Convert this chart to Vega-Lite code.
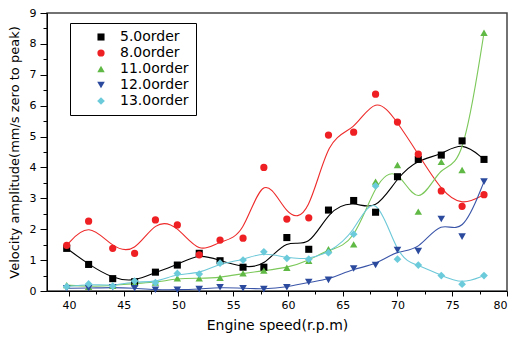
{
  "$schema": "https://vega.github.io/schema/vega-lite/v6.json",
  "autosize": {"type": "none"},
  "width": 460,
  "height": 278,
  "padding": {"left": 47, "top": 13, "right": 7, "bottom": 51},
  "background": "white",
  "config": {
    "view": {"stroke": "#444", "strokeWidth": 1.5},
    "axis": {"grid": false, "domainColor": "#000", "tickColor": "#000", "labelColor": "#000", "titleColor": "#000", "labelFont": "DejaVu Sans", "titleFont": "DejaVu Sans", "labelFontSize": 11, "titleFontWeight": "normal"},
    "legend": {"labelFont": "DejaVu Sans", "labelFontSize": 14, "labelColor": "#000"}
  },
  "data": {"values": [
    {"x": 39.8, "y": 1.38, "s": "5.0order"}, {"x": 41.8, "y": 0.86, "s": "5.0order"}, {"x": 44, "y": 0.40, "s": "5.0order"}, {"x": 46, "y": 0.30, "s": "5.0order"}, {"x": 47.9, "y": 0.61, "s": "5.0order"}, {"x": 49.9, "y": 0.84, "s": "5.0order"}, {"x": 51.9, "y": 1.22, "s": "5.0order"}, {"x": 53.8, "y": 0.98, "s": "5.0order"}, {"x": 55.9, "y": 0.77, "s": "5.0order"}, {"x": 57.8, "y": 0.77, "s": "5.0order"}, {"x": 59.9, "y": 1.73, "s": "5.0order"}, {"x": 61.9, "y": 1.35, "s": "5.0order"}, {"x": 63.7, "y": 2.62, "s": "5.0order"}, {"x": 66, "y": 2.93, "s": "5.0order"}, {"x": 68, "y": 2.55, "s": "5.0order"}, {"x": 70, "y": 3.70, "s": "5.0order"}, {"x": 71.9, "y": 4.26, "s": "5.0order"}, {"x": 74, "y": 4.40, "s": "5.0order"}, {"x": 75.9, "y": 4.86, "s": "5.0order"}, {"x": 77.9, "y": 4.26, "s": "5.0order"},
    {"x": 39.8, "y": 1.48, "s": "8.0order"}, {"x": 41.8, "y": 2.26, "s": "8.0order"}, {"x": 44, "y": 1.38, "s": "8.0order"}, {"x": 46, "y": 1.22, "s": "8.0order"}, {"x": 47.9, "y": 2.30, "s": "8.0order"}, {"x": 49.9, "y": 2.14, "s": "8.0order"}, {"x": 51.9, "y": 1.17, "s": "8.0order"}, {"x": 53.8, "y": 1.65, "s": "8.0order"}, {"x": 55.9, "y": 1.71, "s": "8.0order"}, {"x": 57.8, "y": 4.00, "s": "8.0order"}, {"x": 59.9, "y": 2.33, "s": "8.0order"}, {"x": 61.9, "y": 2.37, "s": "8.0order"}, {"x": 63.7, "y": 5.05, "s": "8.0order"}, {"x": 66, "y": 5.14, "s": "8.0order"}, {"x": 68, "y": 6.37, "s": "8.0order"}, {"x": 70, "y": 5.47, "s": "8.0order"}, {"x": 71.9, "y": 4.43, "s": "8.0order"}, {"x": 74, "y": 3.24, "s": "8.0order"}, {"x": 75.9, "y": 2.74, "s": "8.0order"}, {"x": 77.9, "y": 3.12, "s": "8.0order"},
    {"x": 39.8, "y": 0.19, "s": "11.0order"}, {"x": 41.8, "y": 0.14, "s": "11.0order"}, {"x": 44, "y": 0.17, "s": "11.0order"}, {"x": 46, "y": 0.25, "s": "11.0order"}, {"x": 47.9, "y": 0.27, "s": "11.0order"}, {"x": 49.9, "y": 0.41, "s": "11.0order"}, {"x": 51.9, "y": 0.41, "s": "11.0order"}, {"x": 53.8, "y": 0.43, "s": "11.0order"}, {"x": 55.9, "y": 0.57, "s": "11.0order"}, {"x": 57.8, "y": 0.66, "s": "11.0order"}, {"x": 59.9, "y": 0.75, "s": "11.0order"}, {"x": 61.9, "y": 0.98, "s": "11.0order"}, {"x": 63.7, "y": 1.35, "s": "11.0order"}, {"x": 66, "y": 1.51, "s": "11.0order"}, {"x": 68, "y": 3.54, "s": "11.0order"}, {"x": 70, "y": 4.08, "s": "11.0order"}, {"x": 71.9, "y": 2.57, "s": "11.0order"}, {"x": 74, "y": 4.18, "s": "11.0order"}, {"x": 75.9, "y": 3.92, "s": "11.0order"}, {"x": 77.9, "y": 8.36, "s": "11.0order"},
    {"x": 39.8, "y": 0.09, "s": "12.0order"}, {"x": 41.8, "y": 0.09, "s": "12.0order"}, {"x": 44, "y": 0.12, "s": "12.0order"}, {"x": 46, "y": 0.09, "s": "12.0order"}, {"x": 47.9, "y": 0.04, "s": "12.0order"}, {"x": 49.9, "y": 0.04, "s": "12.0order"}, {"x": 51.9, "y": 0.06, "s": "12.0order"}, {"x": 53.8, "y": 0.12, "s": "12.0order"}, {"x": 55.9, "y": 0.09, "s": "12.0order"}, {"x": 57.8, "y": 0.06, "s": "12.0order"}, {"x": 59.9, "y": 0.12, "s": "12.0order"}, {"x": 61.9, "y": 0.29, "s": "12.0order"}, {"x": 63.7, "y": 0.36, "s": "12.0order"}, {"x": 66, "y": 0.73, "s": "12.0order"}, {"x": 68, "y": 0.84, "s": "12.0order"}, {"x": 70, "y": 1.33, "s": "12.0order"}, {"x": 71.9, "y": 1.29, "s": "12.0order"}, {"x": 74, "y": 2.33, "s": "12.0order"}, {"x": 75.9, "y": 1.76, "s": "12.0order"}, {"x": 77.9, "y": 3.54, "s": "12.0order"},
    {"x": 39.8, "y": 0.14, "s": "13.0order"}, {"x": 41.8, "y": 0.23, "s": "13.0order"}, {"x": 44, "y": 0.16, "s": "13.0order"}, {"x": 46, "y": 0.32, "s": "13.0order"}, {"x": 47.9, "y": 0.27, "s": "13.0order"}, {"x": 49.9, "y": 0.57, "s": "13.0order"}, {"x": 51.9, "y": 0.55, "s": "13.0order"}, {"x": 53.8, "y": 0.90, "s": "13.0order"}, {"x": 55.9, "y": 1.00, "s": "13.0order"}, {"x": 57.8, "y": 1.27, "s": "13.0order"}, {"x": 59.9, "y": 1.06, "s": "13.0order"}, {"x": 61.9, "y": 1.03, "s": "13.0order"}, {"x": 63.7, "y": 1.24, "s": "13.0order"}, {"x": 66, "y": 1.84, "s": "13.0order"}, {"x": 68, "y": 3.40, "s": "13.0order"}, {"x": 70, "y": 1.03, "s": "13.0order"}, {"x": 71.9, "y": 0.84, "s": "13.0order"}, {"x": 74, "y": 0.50, "s": "13.0order"}, {"x": 75.9, "y": 0.22, "s": "13.0order"}, {"x": 77.9, "y": 0.50, "s": "13.0order"}
  ]},
  "resolve": {"axis": {"x": "independent", "y": "independent"}},
  "layer": [
    {
      "mark": {"type": "line", "interpolate": "basis", "strokeWidth": 1.1},
      "encoding": {
        "x": {"field": "x", "type": "quantitative", "scale": {"domain": [38, 80], "nice": false, "zero": false},
          "axis": {"orient": "bottom", "values": [40, 45, 50, 55, 60, 65, 70, 75, 80], "tickSize": 5, "labelPadding": 3, "title": "Engine speed(r.p.m)", "titleFontSize": 14, "titlePadding": 8}},
        "y": {"field": "y", "type": "quantitative", "scale": {"domain": [0, 9], "nice": false},
          "axis": {"orient": "left", "values": [0, 1, 2, 3, 4, 5, 6, 7, 8, 9], "tickSize": 7, "labelPadding": 4, "title": "Velocity amplitude(mm/s zero to peak)", "titleFontSize": 13, "titlePadding": 8}},
        "stroke": {"field": "s", "type": "nominal",
          "scale": {"domain": ["5.0order", "8.0order", "11.0order", "12.0order", "13.0order"], "range": ["#000000", "#ee2a2a", "#7cc85a", "#3a55a8", "#6cc8d8"]},
          "legend": {"orient": "none", "legendX": 23, "legendY": 10, "title": null, "strokeColor": "#000", "padding": 7, "rowPadding": 2, "symbolOffset": 17, "labelOffset": 12, "symbolStrokeWidth": 0}},
        "detail": {"field": "s"}
      }
    },
    {
      "mark": {"type": "point", "filled": true, "opacity": 1},
      "encoding": {
        "x": {"field": "x", "type": "quantitative", "scale": {"domain": [38, 80], "nice": false, "zero": false},
          "axis": {"orient": "bottom", "values": [42.5, 47.5, 52.5, 57.5, 62.5, 67.5, 72.5, 77.5], "tickSize": 3, "labels": false, "domain": false, "title": null}},
        "y": {"field": "y", "type": "quantitative", "scale": {"domain": [0, 9], "nice": false},
          "axis": {"orient": "left", "values": [0.5, 1.5, 2.5, 3.5, 4.5, 5.5, 6.5, 7.5, 8.5], "tickSize": 4, "labels": false, "domain": false, "title": null}},
        "size": {"field": "s", "type": "nominal",
          "scale": {"domain": ["5.0order", "8.0order", "11.0order", "12.0order", "13.0order"], "range": [50, 60, 85, 85, 80]},
          "legend": {"orient": "none", "legendX": 23, "legendY": 10, "title": null, "strokeColor": "#000", "padding": 7, "rowPadding": 2, "symbolOffset": 17, "labelOffset": 12, "symbolStrokeWidth": 0}},
        "color": {"field": "s", "type": "nominal",
          "scale": {"domain": ["5.0order", "8.0order", "11.0order", "12.0order", "13.0order"], "range": ["#000000", "#ee2024", "#5fb944", "#2b4a9e", "#6ccbda"]},
          "legend": {"orient": "none", "legendX": 23, "legendY": 10, "title": null, "strokeColor": "#000", "padding": 7, "rowPadding": 2, "symbolOffset": 17, "labelOffset": 12, "symbolStrokeWidth": 0}},
        "shape": {"field": "s", "type": "nominal",
          "scale": {"domain": ["5.0order", "8.0order", "11.0order", "12.0order", "13.0order"], "range": ["square", "circle", "triangle-up", "triangle-down", "diamond"]},
          "legend": {"orient": "none", "legendX": 23, "legendY": 10, "title": null, "strokeColor": "#000", "padding": 7, "rowPadding": 2, "symbolOffset": 17, "labelOffset": 12, "symbolStrokeWidth": 0}}
      }
    }
  ]
}
